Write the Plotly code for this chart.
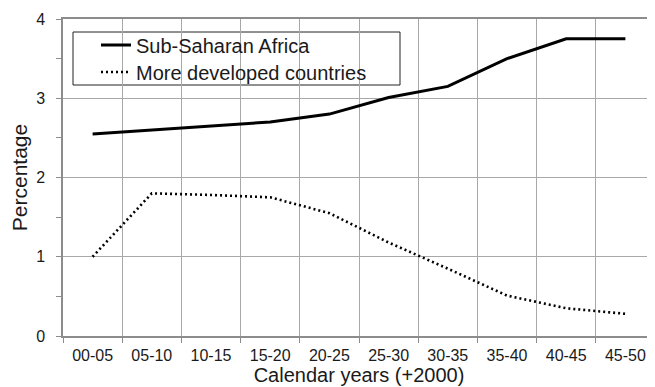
import plotly.graph_objects as go

categories = ["00-05", "05-10", "10-15", "15-20", "20-25", "25-30", "30-35", "35-40", "40-45", "45-50"]
ssa = [2.55, 2.60, 2.65, 2.70, 2.80, 3.01, 3.15, 3.50, 3.75, 3.75]
mdc = [1.00, 1.80, 1.78, 1.75, 1.55, 1.18, 0.85, 0.51, 0.35, 0.28]
y_ticks = [0, 1, 2, 3, 4]

FONT = "Liberation Sans, Arial, sans-serif"
TXT = "#1a1a1a"
AX = "#8c8c8c"
GRID = "#a8a8a8"

# page is rendered with an 8px body margin; figure is sized so the page is 655x387
PW, PH = 592, 317  # plot area size


def px(x):
    return (x - 63) / PW


def py(y):
    return (336 - y) / PH


fig = go.Figure()
fig.add_trace(go.Scatter(x=categories, y=ssa, mode="lines", name="Sub-Saharan Africa",
                         line=dict(color="black", width=3), legend="legend"))
fig.add_trace(go.Scatter(x=categories, y=mdc, mode="lines", name="More developed countries",
                         line=dict(color="black", width=2.6, dash="2px,3px"), legend="legend2"))

leg_common = dict(xanchor="left", yanchor="middle", bgcolor="rgba(0,0,0,0)", borderwidth=0,
                  font=dict(size=20, family=FONT, color=TXT), itemwidth=30)

fig.update_layout(
    width=647, height=379,
    margin=dict(l=55, r=0, t=11, b=51),
    paper_bgcolor="white", plot_bgcolor="white",
    font=dict(family=FONT, color=TXT, size=16),
    showlegend=True,
    legend=dict(x=px(96), y=py(45), **leg_common),
    legend2=dict(x=px(96), y=py(72), **leg_common),
    xaxis=dict(type="category", tickson="boundaries", showgrid=True, gridcolor=GRID, gridwidth=1,
               showline=True, linecolor=AX, linewidth=1.5, mirror=True,
               ticks="outside", ticklen=5, tickcolor=AX, ticklabelstandoff=4,
               tickfont=dict(size=16), range=[-0.5, 9.5],
               title=dict(text="Calendar years (+2000)", font=dict(size=20), standoff=4)),
    yaxis=dict(range=[0, 4], tickvals=y_ticks, showgrid=True, gridcolor=GRID, gridwidth=1,
               showline=True, linecolor=AX, linewidth=1.5, zeroline=False,
               ticks="outside", ticklen=5, tickcolor=AX, ticklabelstandoff=8,
               minor=dict(dtick=0.5, ticks="outside", ticklen=5, tickcolor=AX, showgrid=False),
               tickfont=dict(size=16),
               title=dict(text="Percentage", font=dict(size=21), standoff=3)),
    shapes=[dict(type="rect", xref="paper", yref="paper",
                 x0=px(73), x1=px(400), y0=py(85), y1=py(32),
                 line=dict(color="#222", width=1), fillcolor="white", layer="below")],
)

fig.write_html("out.html")
